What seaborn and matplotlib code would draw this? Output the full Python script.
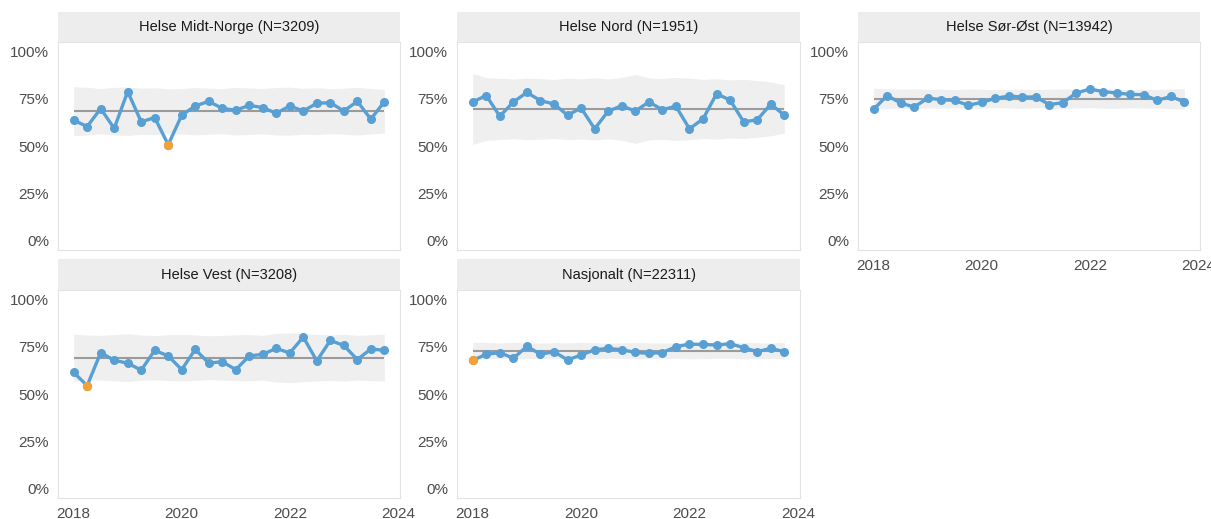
import matplotlib
matplotlib.use("Agg")
import matplotlib.pyplot as plt
import seaborn as sns
import pandas as pd
from matplotlib.ticker import PercentFormatter

# kvartaler 2018 Q1 - 2023 Q4
quarters = [f"{y}Q{q}" for y in range(2018, 2024) for q in range(1, 5)]

regions = ["Helse Midt-Norge", "Helse Nord", "Helse Sør-Øst", "Helse Vest", "Nasjonalt"]
n_counts = [3209, 1951, 13942, 3208, 22311]

# andel (%) per kvartal
midt = [63.6, 60.3, 69.8, 59.3, 78.8, 62.8, 65.0, 50.7, 66.3, 71.2, 73.6, 69.9,
        68.9, 71.5, 70.3, 67.3, 71.2, 68.5, 72.6, 72.9, 68.5, 73.6, 64.2, 73.4]
nord = [73.3, 76.7, 65.7, 73.3, 78.3, 74.0, 72.2, 66.3, 70.1, 59.1, 68.4, 71.3,
        68.4, 73.3, 69.2, 71.0, 59.1, 64.3, 77.6, 74.3, 62.8, 63.8, 72.2, 66.3]
sorost = [69.4, 76.7, 72.7, 70.6, 75.3, 74.5, 74.1, 71.5, 73.1, 75.2, 76.4, 75.9,
          75.9, 71.9, 72.9, 78.0, 80.1, 78.8, 78.0, 77.3, 77.1, 74.1, 76.2, 73.3]
vest = [61.4, 54.4, 71.9, 67.8, 66.3, 62.6, 73.1, 70.1, 62.9, 73.6, 66.3, 67.1,
        62.9, 70.1, 71.0, 74.1, 71.7, 80.1, 67.5, 78.3, 75.7, 68.2, 73.8, 73.1]
nasjonalt = [67.8, 71.0, 71.9, 68.9, 75.2, 71.0, 72.4, 68.0, 70.6, 73.4, 74.1, 73.4,
             72.0, 71.5, 71.9, 75.0, 76.4, 76.2, 75.9, 76.6, 74.5, 72.4, 74.1, 72.4]

# senterlinje
center = [68.4, 69.6, 75.0, 69.2, 72.9]

# kontrollgrenser
upper_midt = [81.3, 81.0, 80.4, 81.0, 81.2, 80.6, 80.8, 80.2, 80.4, 80.9, 80.6, 80.3,
              81.0, 80.7, 80.4, 80.9, 81.1, 80.5, 80.8, 80.3, 80.6, 81.0, 80.4, 79.9]
lower_midt = [55.4, 55.8, 56.4, 55.8, 55.6, 56.2, 56.0, 56.6, 56.4, 55.9, 56.2, 56.5,
              55.8, 56.1, 56.4, 55.9, 55.7, 56.3, 56.0, 56.5, 56.2, 55.8, 56.4, 56.9]
upper_nord = [88.4, 86.2, 85.8, 85.4, 85.9, 85.6, 85.2, 85.8, 85.5, 86.0, 85.4, 86.2,
              87.8, 86.0, 85.6, 86.3, 85.9, 85.2, 85.6, 84.9, 85.3, 84.6, 83.8, 82.4]
lower_nord = [50.8, 53.0, 53.4, 53.8, 53.3, 53.6, 54.0, 53.4, 53.7, 53.2, 53.8, 53.0,
              51.4, 53.2, 53.6, 52.9, 53.3, 54.0, 53.6, 54.3, 53.9, 54.6, 55.4, 56.8]
upper_sorost = [80.6, 80.2, 80.0, 80.3, 79.9, 80.1, 79.8, 80.2, 80.0, 79.7, 79.9, 80.1,
                79.8, 80.0, 80.2, 79.9, 79.7, 80.0, 80.1, 79.8, 80.0, 79.9, 80.2, 80.4]
lower_sorost = [69.4, 69.8, 70.0, 69.7, 70.1, 69.9, 70.2, 69.8, 70.0, 70.3, 70.1, 69.9,
                70.2, 70.0, 69.8, 70.1, 70.3, 70.0, 69.9, 70.2, 70.0, 70.1, 69.8, 69.6]
upper_vest = [81.6, 81.2, 81.0, 81.4, 81.8, 81.2, 80.9, 81.3, 81.5, 81.2, 80.8, 81.0,
              81.3, 81.4, 81.0, 82.0, 82.4, 81.9, 81.5, 81.2, 81.6, 81.0, 81.3, 81.6]
lower_vest = [56.8, 57.2, 57.4, 57.0, 56.6, 57.2, 57.5, 57.1, 56.9, 57.2, 57.6, 57.4,
              57.1, 57.0, 57.4, 56.4, 56.0, 56.5, 56.9, 57.2, 56.8, 57.4, 57.1, 56.8]
upper_nasj = [77.4, 77.2, 77.0, 77.3, 77.1, 76.9, 77.2, 77.0, 77.3, 77.1, 76.9, 77.0,
              77.2, 77.1, 76.9, 77.0, 77.2, 77.1, 76.9, 77.0, 77.2, 77.1, 77.0, 77.3]
lower_nasj = [68.4, 68.6, 68.8, 68.5, 68.7, 68.9, 68.6, 68.8, 68.5, 68.7, 68.9, 68.8,
              68.6, 68.7, 68.9, 68.8, 68.6, 68.7, 68.9, 68.8, 68.6, 68.7, 68.8, 68.5]

# kvartaler utenfor kontrollgrensene (signal)
signal_quarters = [["2019Q4"], [], [], ["2018Q2"], ["2018Q1"]]

values = [midt, nord, sorost, vest, nasjonalt]
uppers = [upper_midt, upper_nord, upper_sorost, upper_vest, upper_nasj]
lowers = [lower_midt, lower_nord, lower_sorost, lower_vest, lower_nasj]

BLUE = "#589FD3"
ORANGE = "#F2A03A"
BAND = "#EFEFEF"
CLINE = "#9B9B9B"
STRIP = "#EDEDED"

sns.set_style("white")
plt.rcParams["font.family"] = ["Liberation Sans", "DejaVu Sans"]


def qtime(q):
    return int(q[:4]) + (int(q[-1]) - 1) / 4


W, H = 1211, 519
fig = plt.figure(figsize=(W / 100, H / 100), dpi=100)

# panel-posisjoner i piksler: (venstre, høyre, strip-topp, topp, bunn)
cols = [(58, 400), (457, 800), (858, 1200)]
rows = [(12, 42, 250), (259, 290, 498)]

for i, reg in enumerate(regions):
    r, c = divmod(i, 3)
    x0, x1 = cols[c]
    st, top, bot = rows[r]
    ax = fig.add_axes([x0 / W, 1 - bot / H, (x1 - x0) / W, (bot - top) / H])
    sax = fig.add_axes([x0 / W, 1 - top / H, (x1 - x0) / W, (top - st) / H])

    df = pd.DataFrame({
        "t": [qtime(q) for q in quarters],
        "andel": [v / 100 for v in values[i]],
        "ucl": [v / 100 for v in uppers[i]],
        "lcl": [v / 100 for v in lowers[i]],
    })
    ax.fill_between(df["t"], df["lcl"], df["ucl"], color=BAND, lw=0, zorder=1)
    ax.hlines(center[i] / 100, df["t"].iloc[0], df["t"].iloc[-1], color=CLINE, lw=1.5, zorder=2)
    sns.lineplot(data=df, x="t", y="andel", ax=ax, color=BLUE, lw=2.4, marker="o",
                 markersize=6.5, markeredgewidth=0, zorder=3)
    sig = df[[q in signal_quarters[i] for q in quarters]]
    if len(sig):
        sns.scatterplot(data=sig, x="t", y="andel", ax=ax, color=ORANGE, s=45,
                        linewidth=0, zorder=4)

    ax.set_xlim(2017.71, 2024.04)
    ax.set_ylim(-0.05, 1.05)
    ax.set_yticks([0, 0.25, 0.5, 0.75, 1.0])
    ax.yaxis.set_major_formatter(PercentFormatter(1.0, decimals=0))
    ax.set_xticks([2018, 2020, 2022, 2024])
    ax.set_xlabel("")
    ax.set_ylabel("")
    ax.tick_params(colors="#A0A0A0", labelcolor="#4D4D4D", labelsize=11, length=3, width=0.8)
    show_x = (r == 1) or (c == 2)
    if show_x:
        ax.set_xticklabels(["2018", "2020", "2022", "2024"])
    else:
        ax.tick_params(axis="x", bottom=False, labelbottom=False)
    for s in ax.spines.values():
        s.set_color("#E3E3E3")
        s.set_linewidth(0.8)

    sax.set_facecolor(STRIP)
    sax.set_xticks([])
    sax.set_yticks([])
    for s in sax.spines.values():
        s.set_visible(False)
    sax.text(0.5, 0.5, f"{reg} (N={n_counts[i]})", ha="center", va="center",
             fontsize=10.5, color="#1A1A1A", transform=sax.transAxes)

fig.savefig("out.png", dpi=100)
